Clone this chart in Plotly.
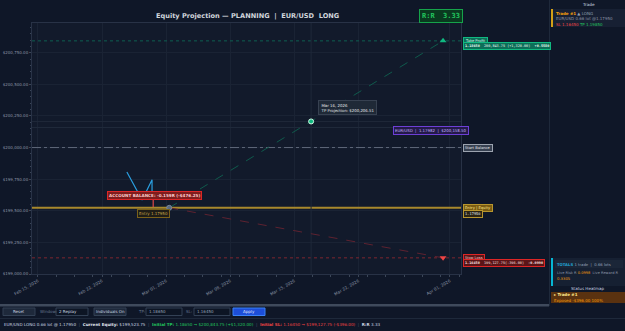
import plotly.graph_objects as go

W, H = 625, 331
PL, PR, PT, PB = 32, 461, 23, 274

# ---------------- data ----------------
y_ticks = [199000, 199250, 199500, 199750, 200000, 200250, 200500, 200750]
y_range = [199000, 200985]
x_tick_dates = ["2026-02-15", "2026-02-22", "2026-03-01", "2026-03-08",
                "2026-03-15", "2026-03-22", "2026-04-01"]
x_tick_labels = ["Feb 15, 2026", "Feb 22, 2026", "Mar 01, 2026", "Mar 08, 2026",
                 "Mar 15, 2026", "Mar 22, 2026", "Apr 01, 2026"]
x_range = ["2026-02-14 08:17", "2026-04-02 05:00"]

start_balance = 200000.00
current_equity = 199523.75
tp_equity = 200843.75
sl_equity = 199127.75
entry_date = "2026-03-01 08:00"
target_date = "2026-03-31 06:00"
hover_date = "2026-03-16 20:00"
hover_equity = 200206.51
crosshair_equity = 200158.50

history_dates = ["2026-02-24 17:00", "2026-02-26 09:00", "2026-02-27 11:00", "2026-02-27 11:00"]
history_equity = [199807, 199585, 199745, 199612]
drop_dates = ["2026-02-27 14:00", "2026-02-27 14:00"]
drop_equity = [199612, 199530]

SANS = "DejaVu Sans"
MONO = "DejaVu Sans Mono"
BG = "#0f1728"
PLOT_BG = "#121a2b"

fig = go.Figure()

# horizontal level lines
fig.add_trace(go.Scatter(x=x_range, y=[tp_equity, tp_equity], mode="lines",
                         line=dict(color="#0e5f51", width=1, dash="dot")))
fig.add_trace(go.Scatter(x=x_range, y=[sl_equity, sl_equity], mode="lines",
                         line=dict(color="#7e2630", width=1, dash="dot")))
fig.add_trace(go.Scatter(x=x_range, y=[start_balance, start_balance], mode="lines",
                         line=dict(color="#5f687a", width=1, dash="dashdot")))
fig.add_trace(go.Scatter(x=x_range, y=[current_equity, current_equity], mode="lines",
                         line=dict(color="#a8892c", width=2)))
# crosshairs
fig.add_trace(go.Scatter(x=x_range, y=[hover_equity, hover_equity], mode="lines",
                         line=dict(color="#1f293a", width=1)))
fig.add_trace(go.Scatter(x=x_range, y=[crosshair_equity, crosshair_equity], mode="lines",
                         line=dict(color="#1f293a", width=1)))
fig.add_trace(go.Scatter(x=[hover_date, hover_date], y=y_range, mode="lines",
                         line=dict(color="#1f293a", width=1)))

# projections
fig.add_trace(go.Scatter(x=[entry_date, target_date], y=[current_equity, tp_equity], mode="lines",
                         line=dict(color="#0f5a4c", width=1, dash="dash")))
fig.add_trace(go.Scatter(x=[entry_date, target_date], y=[current_equity, sl_equity], mode="lines",
                         line=dict(color="#5e2230", width=1, dash="dash")))

# equity history
fig.add_trace(go.Scatter(x=history_dates, y=history_equity, mode="lines",
                         line=dict(color="#2b9fe0", width=1.2)))
fig.add_trace(go.Scatter(x=drop_dates, y=drop_equity, mode="lines",
                         line=dict(color="#e04848", width=1.2)))

# markers
fig.add_trace(go.Scatter(x=[entry_date], y=[current_equity], mode="markers",
                         marker=dict(size=5, color="#5b6b82", line=dict(color="#8190a5", width=0.8))))
fig.add_trace(go.Scatter(x=[hover_date], y=[hover_equity], mode="markers",
                         marker=dict(size=5, color="#10b981", line=dict(color="#d1fae5", width=1))))
fig.add_trace(go.Scatter(x=[target_date], y=[tp_equity], mode="markers",
                         marker=dict(size=6, symbol="triangle-up", color="#10b981")))
fig.add_trace(go.Scatter(x=[target_date], y=[sl_equity], mode="markers",
                         marker=dict(size=6, symbol="triangle-down", color="#ef4444")))

def X(px):
    return px / W

def Y(py):
    return 1 - py / H

shapes = []
annotations = []

def rect(x0, y0, x1, y1, fill, line=None, lw=1):
    shapes.append(dict(type="rect", xref="paper", yref="paper", x0=X(x0), x1=X(x1),
                       y0=Y(y1), y1=Y(y0), fillcolor=fill,
                       line=dict(color=line if line else "rgba(0,0,0,0)", width=lw if line else 0),
                       layer="above"))

def hline(x0, x1, y, color, w=1):
    shapes.append(dict(type="line", xref="paper", yref="paper", x0=X(x0), x1=X(x1),
                       y0=Y(y), y1=Y(y), line=dict(color=color, width=w), layer="above"))

def vline(x, y0, y1, color, w=1):
    shapes.append(dict(type="line", xref="paper", yref="paper", x0=X(x), x1=X(x),
                       y0=Y(y0), y1=Y(y1), line=dict(color=color, width=w), layer="above"))

def text(px, py, t, size, color, bg=None, border=None, xanchor="left", font=SANS, pad=1, align="left"):
    annotations.append(dict(x=X(px), y=Y(py), xref="paper", yref="paper", text=t,
                            showarrow=False, xanchor=xanchor, yanchor="middle", align=align,
                            font=dict(size=size, color=color, family=font),
                            bgcolor=bg if bg else "rgba(0,0,0,0)",
                            bordercolor=border if border else "rgba(0,0,0,0)",
                            borderwidth=1 if border else 0, borderpad=pad))

# title and R:R badge
text(247, 16, "<b>Equity Projection — PLANNING  |  EUR/USD  LONG</b>", 6.6, "#d1d5db", xanchor="center")
text(440.5, 15.5, "<b>R:R  3.33</b>", 7, "#22c55e", bg="#0a3a20", border="#16a34a", xanchor="center", font=MONO, pad=2)

# in-plot labels
text(154, 195, "<b>ACCOUNT BALANCE: -0.159R (-$476.25)</b>", 4.1, "#fecaca", bg="#7f1d1d", border="#dc2626", xanchor="center")
text(153, 214, "Entry 1.17950", 4.0, "#c9a94a", bg="#1f1d17", border="#7a611a", xanchor="center")
text(318, 107.5, "Mar 16, 2026<br>TP Projection: $200,206.51", 3.9, "#e5e7eb", bg="#1f2937", border="#374151", pad=1.5)
text(393, 130, "EUR/USD  |  1.17982  |  $200,158.50", 3.9, "#c4b5fd", bg="#241a4a", border="#6d3fd6")

# right-of-plot level tags
text(463, 40.5, "Take Profit", 3.7, "#d1fae5", bg="#0d6e58", border="#10b981")
text(463, 46.2, "<b>1.18650</b>  200,843.75 (+1,320.00)  <b>+0.5580</b>", 3.5, "#ecfdf5", bg="#0d6e58", border="#10b981", font=MONO)
text(463, 147.5, "Start Balance", 3.7, "#e5e7eb", bg="#374151", border="#9ca3af")
text(463, 207.5, "Entry | Equity", 3.7, "#fde68a", bg="#7a5c12", border="#b8962e")
text(463, 213.5, "1.17950", 3.7, "#e5e7eb", bg="#2a2414", border="#b8962e", font=MONO)
text(463, 257.5, "Stop Loss", 3.7, "#fecaca", bg="#5b1518", border="#dc2626")
text(463, 263.2, "<b>1.16450</b>  199,127.75(-396.00)  <b>-0.0990</b>", 3.5, "#fee2e2", bg="#5b1518", border="#dc2626", font=MONO)

# right panel
vline(549.5, 0, 306, "#1e293b")
text(588, 5, "Trade", 4.2, "#cbd5e1", xanchor="center")
rect(551, 9, 625, 27, "#172033")
rect(551, 9, 553, 27, "#d4a017")
text(555, 13.5, "<b><span style='color:#f59e0b'>Trade #1</span></b> ▲ LONG", 4.0, "#94a3b8")
text(555, 19, "EUR/USD 0.66 lot @1.17950", 4.0, "#8b95a7")
text(555, 24.5, "<span style='color:#ef4444'>SL 1.16450</span> <span style='color:#22c55e'>TP 1.19850</span>", 4.0, "#94a3b8")

rect(551, 258, 625, 286, "#162032")
rect(551, 258, 553, 286, "#06b6d4")
rect(555, 260, 623, 268, "#1b2638")
text(556, 264, "<b><span style='color:#22a7d8'>TOTALS</span></b> 1 trade  |  0.66 lots", 3.8, "#94a3b8")
text(556, 273, "Live Risk R <span style='color:#f59e0b'>0.0998</span>  Live Reward R", 3.6, "#8b95a7")
text(556, 278.5, "<span style='color:#f59e0b'>0.3305</span>", 3.8, "#8b95a7")
text(588, 288.5, "Status Heatmap", 4.1, "#cbd5e1", xanchor="center")
rect(551, 292, 625, 303, "#5a3210")
text(553, 294.8, "<b>▸ Trade #1</b>", 4.0, "#fde68a")
text(553, 300, "Exposed -$396.00 100%", 4.0, "#f59e0b")

# bottom separator and toolbar
rect(0, 304, 549, 306.5, "#3f4a5c")
hline(0, 625, 318.5, "#1e293b")
rect(3, 308, 35, 315.5, "#1e293b", "#334155")
text(19, 311.8, "Reset", 4.0, "#cbd5e1", xanchor="center")
text(39, 311.8, "Window:", 4.0, "#64748b")
rect(56, 308, 88, 315.5, "#0d1524", "#334155")
text(58, 311.8, "2 Replay", 4.0, "#cbd5e1")
rect(94, 308, 126, 315.5, "#1e293b", "#334155")
text(110, 311.8, "Individuals On", 4.0, "#cbd5e1", xanchor="center")
text(137, 311.8, "TP:", 4.0, "#64748b")
rect(146, 308, 182, 315.5, "#0d1524", "#334155")
text(148, 311.8, "1.18650", 4.0, "#94a3b8")
text(185, 311.8, "SL:", 4.0, "#64748b")
rect(194, 308, 230, 315.5, "#0d1524", "#334155")
text(196, 311.8, "1.16450", 4.0, "#94a3b8")
rect(233, 308, 265, 315.5, "#1d4ed8", "#3b82f6")
text(249, 311.8, "Apply", 4.0, "#e0e7ff", xanchor="center")

status = ("<span style='color:#cbd5e1'>EUR/USD LONG 0.66 lot @ 1.17950</span>"
          "  <span style='color:#475569'>|</span>  "
          "<b><span style='color:#e2e8f0'>Current Equity:</span></b> <span style='color:#cbd5e1'>$199,523.75</span>"
          "  <span style='color:#475569'>|</span>  "
          "<span style='color:#22c55e'><b>Initial TP:</b> 1.18650 → $200,843.75 (+$1,320.00)</span>"
          "  <span style='color:#475569'>|</span>  "
          "<span style='color:#ef4444'><b>Initial SL:</b> 1.16450 → $199,127.75 (-$396.00)</span>"
          "  <span style='color:#475569'>|</span>  "
          "<span style='color:#cbd5e1'><b>R:R</b> 3.33</span>")
text(3, 324.5, status, 4.1, "#cbd5e1")

fig.update_layout(
    width=W, height=H,
    margin=dict(l=0, r=0, t=0, b=0),
    paper_bgcolor=BG, plot_bgcolor=PLOT_BG,
    showlegend=False, hovermode=False,
    template="none",
    shapes=shapes, annotations=annotations,
    xaxis=dict(domain=[PL / W, PR / W], type="date", range=x_range,
               tickvals=x_tick_dates, ticktext=x_tick_labels, tickangle=-30,
               tickfont=dict(size=4.2, color="#8b95a7", family=SANS),
               showgrid=True, gridcolor="#1a2334", gridwidth=1,
               showline=True, mirror=True, linecolor="#283246", linewidth=1,
               ticks="outside", ticklen=2, tickcolor="#3b4658",
               minor=dict(dtick=2 * 86400000, ticks="outside", ticklen=1.5, tickcolor="#3b4658", showgrid=False),
               zeroline=False, automargin=False),
    yaxis=dict(domain=[1 - PB / H, 1 - PT / H], range=y_range,
               tickvals=y_ticks, tickformat="$,.2f",
               tickfont=dict(size=4.0, color="#8b95a7", family=SANS),
               showgrid=True, gridcolor="#1a2334", gridwidth=1,
               showline=True, mirror=True, linecolor="#283246", linewidth=1,
               ticks="outside", ticklen=2, tickcolor="#3b4658",
               minor=dict(dtick=50, ticks="outside", ticklen=1.5, tickcolor="#3b4658", showgrid=False),
               zeroline=False, automargin=False),
)

fig.write_html("out.html")
